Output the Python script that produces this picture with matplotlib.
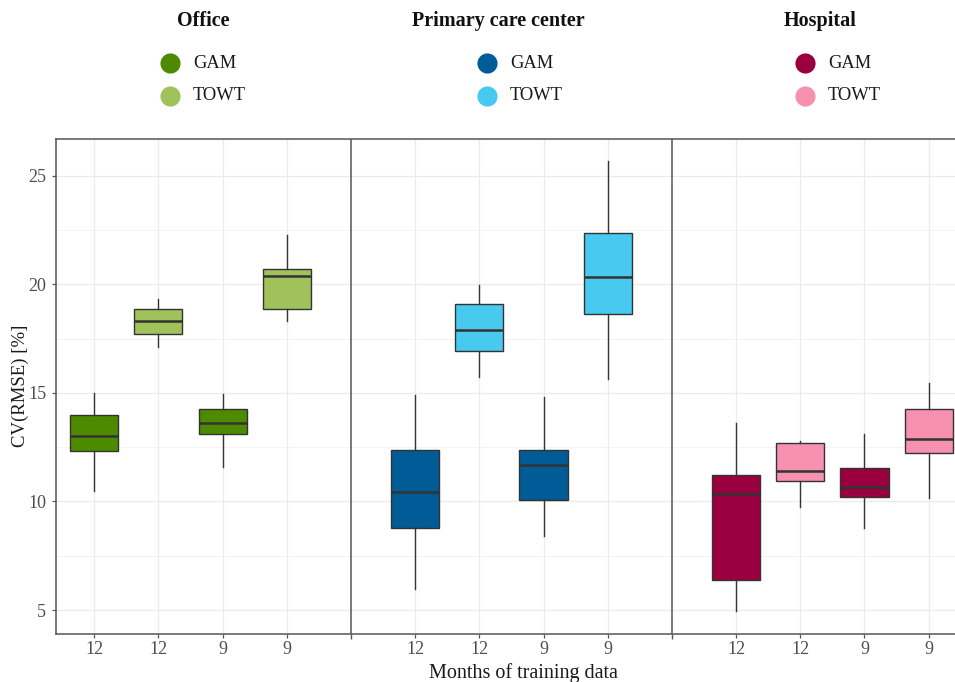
import matplotlib
matplotlib.use("Agg")
import matplotlib.pyplot as plt
from matplotlib.lines import Line2D
from matplotlib.ticker import FixedLocator

plt.rcParams["font.family"] = ["Liberation Serif", "DejaVu Serif"]

buildings = ["Office", "Primary care center", "Hospital"]
models = ["GAM", "TOWT"]
months = ["12", "12", "9", "9"]

# box summaries per building: (whisker low, q1, median, q3, whisker high)
# order inside a panel: GAM 12, TOWT 12, GAM 9, TOWT 9
office_stats = [
    (10.5, 12.33, 13.03, 14.00, 14.99),
    (17.10, 17.73, 18.33, 18.84, 19.31),
    (11.60, 13.11, 13.63, 14.25, 14.96),
    (18.30, 18.84, 20.39, 20.69, 22.27),
]
primary_stats = [
    (5.99, 8.78, 10.45, 12.35, 14.90),
    (15.74, 16.91, 17.88, 19.09, 19.96),
    (8.41, 10.06, 11.67, 12.35, 14.80),
    (15.62, 18.63, 20.34, 22.34, 25.67),
]
hospital_stats = [
    (4.95, 6.38, 10.34, 11.20, 13.60),
    (9.74, 10.95, 11.41, 12.69, 12.80),
    (8.78, 10.21, 10.66, 11.52, 13.09),
    (10.14, 12.25, 12.87, 14.25, 15.46),
]
all_stats = [office_stats, primary_stats, hospital_stats]

colors = {
    "Office": {"GAM": "#4E8A00", "TOWT": "#A1C25B"},
    "Primary care center": {"GAM": "#005B96", "TOWT": "#48C9EF"},
    "Hospital": {"GAM": "#9A003F", "TOWT": "#F791B0"},
}

W, H = 955, 682
ax_left, ax_top, ax_bottom = 55.7, 138.8, 633.5
fig = plt.figure(figsize=(W / 100, H / 100), dpi=100)
ax = fig.add_axes([ax_left / W, (H - ax_bottom) / H, 1 - ax_left / W, (ax_bottom - ax_top) / H])

edge = "#333333"
positions = []
for b, (name, stats) in enumerate(zip(buildings, all_stats)):
    for i, (lo, q1, med, q3, hi) in enumerate(stats):
        pos = b * 5 + i + 1
        positions.append(pos)
        model = models[i % 2]
        d = dict(whislo=lo, q1=q1, med=med, q3=q3, whishi=hi, fliers=[])
        ax.bxp([d], positions=[pos], widths=0.75, patch_artist=True,
               showcaps=False, manage_ticks=False,
               boxprops=dict(facecolor=colors[name][model], edgecolor=edge, linewidth=1.0),
               medianprops=dict(color=edge, linewidth=1.8),
               whiskerprops=dict(color=edge, linewidth=1.0),
               zorder=3)

ax.set_xlim(0.4, 14.41)
ax.set_ylim(3.92, 26.7)

ax.set_xticks(positions)
ax.set_xticklabels(months * 3)
ax.xaxis.set_minor_locator(FixedLocator([5, 10]))
ax.set_yticks([5, 10, 15, 20, 25])
ax.yaxis.set_minor_locator(FixedLocator([7.5, 12.5, 17.5, 22.5]))

ax.tick_params(axis="both", which="major", labelsize=13, labelcolor="#4D4D4D",
               length=2.75, color="#555555", width=0.9)
ax.tick_params(axis="x", which="major", pad=3)
ax.tick_params(axis="y", which="major", pad=4)
ax.tick_params(axis="x", which="minor", length=3.5, color="#555555", width=1.0)
ax.tick_params(axis="y", which="minor", length=0)

ax.grid(True, which="major", color="#EBEBEB", linewidth=0.9, zorder=0)
ax.grid(True, which="minor", axis="y", color="#F3F3F3", linewidth=0.6, zorder=0)
ax.set_axisbelow(True)

for s in ["left", "top", "bottom"]:
    ax.spines[s].set_color("#555555")
    ax.spines[s].set_linewidth(1.1)
ax.spines["right"].set_visible(False)
for x in (5, 10):
    ax.axvline(x, color="#555555", linewidth=1.1, zorder=2)

ax_w, ax_h = W - ax_left, ax_bottom - ax_top
ax.set_ylabel("CV(RMSE) [%]", fontsize=13.5, color="#1A1A1A", va="center")
ax.yaxis.set_label_coords((20 - ax_left) / ax_w, 0.5)
ax.set_xlabel("Months of training data", fontsize=14.5, color="#1A1A1A", va="center")
ax.xaxis.set_label_coords((523 - ax_left) / ax_w, (ax_bottom - 673) / ax_h)

# one legend block per building type across the top
title_x = [203, 498, 820]
marker_x = [170, 487, 805]
row_y = [63, 96]
for name, tx, mx in zip(buildings, title_x, marker_x):
    fig.text(tx / W, 1 - 21 / H, name, ha="center", va="center",
             fontsize=14.5, fontweight="bold", color="#111111")
    for m, ry in zip(models, row_y):
        fig.add_artist(Line2D([mx / W], [1 - ry / H], marker="o", linestyle="none",
                              markersize=14.5, markerfacecolor=colors[name][m],
                              markeredgecolor="none", transform=fig.transFigure))
        fig.text((mx + 23) / W, 1 - ry / H, m, ha="left", va="center",
                 fontsize=13.3, color="#1A1A1A")

fig.savefig("out.png", dpi=100)
